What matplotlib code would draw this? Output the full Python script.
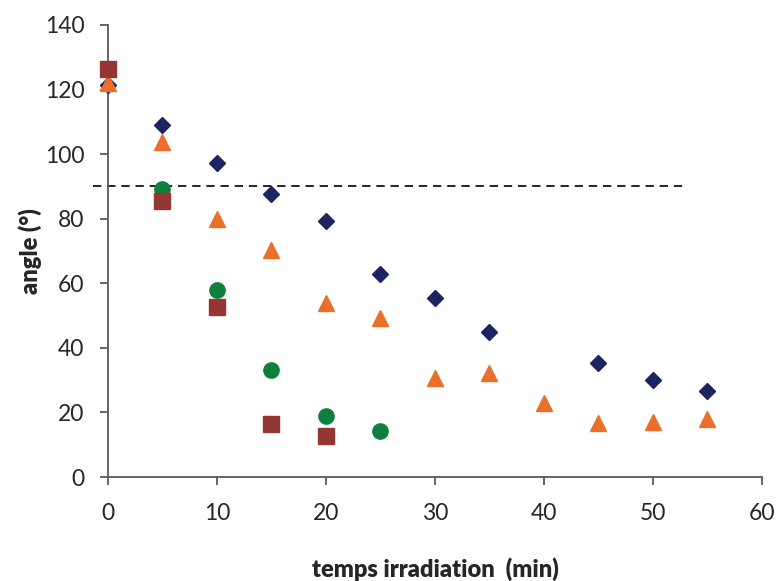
import matplotlib.pyplot as plt

plt.rcParams['font.family'] = ['Lato', 'DejaVu Sans']

# series
t_diamond = [0, 5, 10, 15, 20, 25, 30, 35, 45, 50, 55]
a_diamond = [121.4, 109.0, 97.4, 87.6, 79.4, 63.0, 55.4, 44.9, 35.4, 29.9, 26.5]

t_triangle = [0, 5, 10, 15, 20, 25, 30, 35, 40, 45, 50, 55]
a_triangle = [121.9, 103.8, 80.0, 70.2, 54.0, 49.2, 30.7, 32.3, 22.8, 16.6, 17.0, 18.0]

t_circle = [5, 10, 15, 20, 25]
a_circle = [89.1, 57.8, 33.2, 19.0, 14.2]

t_square = [0, 5, 10, 15, 20]
a_square = [126.4, 85.4, 52.6, 16.4, 12.8]

seuil = 90
seuil_x = [-1.4, 53]

fig = plt.figure(figsize=(7.79, 5.81), dpi=100)
ax = fig.add_axes([0.1386, 0.179, 0.8394, 0.778])

ax.plot(seuil_x, [seuil, seuil], color='black', linestyle=(0, (5, 3.5)), linewidth=1.2, clip_on=False, zorder=1)

ax.plot(t_diamond, a_diamond, 'D', color='#1c2561', markersize=8, linestyle='none', clip_on=False, zorder=3)
ax.plot(t_triangle, a_triangle, '^', color='#e8702a', markersize=11.5, linestyle='none', clip_on=False, zorder=4)
ax.plot(t_circle, a_circle, 'o', color='#0e7f3f', markersize=11, linestyle='none', clip_on=False, zorder=5)
ax.plot(t_square, a_square, 's', color='#943634', markersize=11.5, linestyle='none', clip_on=False, zorder=6)

ax.set_xlim(0, 60)
ax.set_ylim(0, 140)
ax.set_xticks(range(0, 61, 10))
ax.set_yticks(range(0, 141, 20))

for s in ['top', 'right']:
    ax.spines[s].set_visible(False)
for s in ['left', 'bottom']:
    ax.spines[s].set_color('#595959')
    ax.spines[s].set_linewidth(1.3)

ax.tick_params(direction='out', length=6, width=1.3, color='#595959',
               labelsize=16.5, labelcolor='#262626')
ax.tick_params(axis='x', pad=13)
ax.tick_params(axis='y', pad=11)

ax.set_xlabel('temps irradiation  (min)', fontsize=17, fontweight='heavy', color='#262626', labelpad=24)
ax.set_ylabel('angle (°)', fontsize=17, fontweight='heavy', color='#262626', labelpad=2)

plt.savefig('out.png', dpi=100)
